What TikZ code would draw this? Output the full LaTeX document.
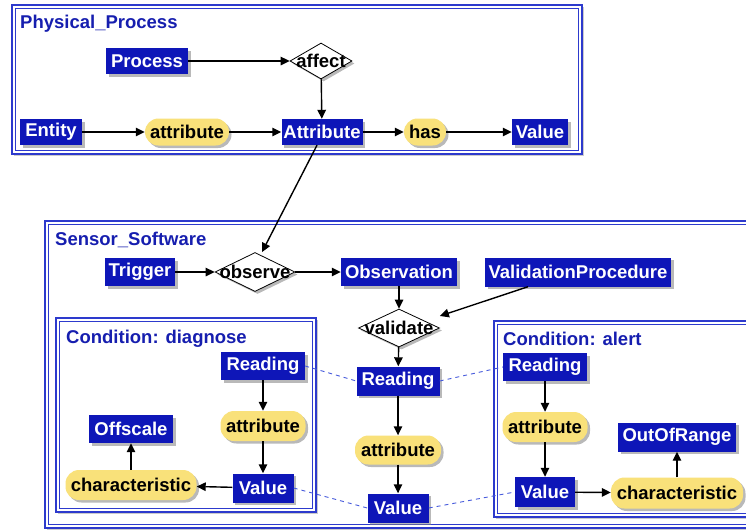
\documentclass[tikz,border=0pt]{standalone}
\usepackage{fontspec}
\setmainfont{Liberation Sans}
\usetikzlibrary{shapes.geometric,shadows,arrows.meta}
\definecolor{nblue}{RGB}{14,22,184}
\definecolor{cblue}{RGB}{45,58,205}
\definecolor{tblue}{RGB}{22,30,175}
\definecolor{ylw}{RGB}{249,225,122}
\definecolor{dblue}{RGB}{70,90,220}
\begin{document}
\begin{tikzpicture}[x=1pt,y=-1pt,
  font=\fontsize{18.5}{21}\selectfont\bfseries,
  shd/.style={drop shadow={shadow xshift=2.5pt,shadow yshift=-2.5pt,fill=black!50,opacity=0.55}},
  bx/.style={fill=nblue, text=white, inner sep=0pt, minimum height=27pt, shd},
  ov/.style={fill=ylw, text=black, inner sep=0pt, minimum height=28pt, rounded corners=13.5pt, shd},
  dia/.style={diamond, draw=black, fill=white, inner sep=0pt, line width=0.8pt, shd},
  cont/.style={draw=cblue, line width=2pt, fill=white,
    drop shadow={shadow xshift=2pt,shadow yshift=-2pt,fill=black!40,opacity=0.5}},
  contin/.style={draw=cblue, line width=1pt},
  ttl/.style={anchor=base west, text=tblue, inner sep=0pt},
  arr/.style={-{Triangle[length=9pt,width=8.5pt]}, line width=1.4pt},
  dsh/.style={draw=dblue, dash pattern=on 4pt off 4pt, line width=0.9pt}]
\useasboundingbox (0,0) rectangle (746,531);
% containers
\draw[cont] (12,5) rectangle (582,154);
\draw[contin] (15.5,8.5) rectangle (578.5,150.5);
\draw[cont] (45,221) rectangle (775,528);
\draw[contin] (48.5,224.5) rectangle (771.5,524.5);
\draw[cont] (56,318) rectangle (316,512);
\draw[contin] (59.5,321.5) rectangle (312.5,508.5);
\draw[cont] (494,321) rectangle (775,517);
\draw[contin] (497.5,324.5) rectangle (771.5,513.5);
\node[ttl] (t1) at (20,28) {Physical\_Process};
\node[ttl] (t2) at (55,245) {Sensor\_Software};
\node[ttl] (t3) at (66,343) {Condition: diagnose};
\node[ttl] (t4) at (503,345) {Condition: alert};
% Physical process
\node[bx, minimum width=82pt, minimum height=26pt] (Process) at (147,61) {Process};
\node[dia, minimum width=62pt, minimum height=36pt, label={center:affect}] (affect) at (321,61) {};
\node[bx, minimum width=62pt, minimum height=26pt] (Entity) at (51,132) {Entity};
\node[ov, minimum width=84pt, minimum height=27pt] (a1) at (187,132) {attribute};
\node[bx, minimum width=81pt, minimum height=26pt] (Attribute) at (322,132) {Attribute};
\node[ov, minimum width=42pt, minimum height=27pt] (has) at (425,132) {has};
\node[bx, minimum width=56pt, minimum height=26pt] (Value) at (540,132) {Value};
% Sensor software
\node[bx, minimum width=70pt, minimum height=28pt] (Trigger) at (140,272) {Trigger};
\node[dia, minimum width=80pt, minimum height=39pt, label={center:observe}] (observe) at (255,272) {};
\node[bx, minimum width=116pt, minimum height=28pt] (Observation) at (399,272) {Observation};
\node[bx, minimum width=186pt, minimum height=29pt] (VP) at (578,272) {ValidationProcedure};
\node[dia, minimum width=81pt, minimum height=38pt, label={center:validate}] (validate) at (399,328) {};
\node[bx, minimum width=83pt, minimum height=29pt] (Rm) at (398,381) {Reading};
\node[ov, minimum width=86pt, minimum height=29pt] (am) at (398,450) {attribute};
\node[bx, minimum width=61pt, minimum height=29pt] (Vm) at (398,508) {Value};
% diagnose
\node[bx, minimum width=84pt, minimum height=28pt] (Rd) at (263,366) {Reading};
\node[ov, minimum width=85pt, minimum height=30pt] (ad) at (263,426) {attribute};
\node[bx, minimum width=61pt, minimum height=29pt] (Vd) at (263,488) {Value};
\node[ov, minimum width=131pt, minimum height=30pt] (cd) at (131,485) {characteristic};
\node[bx, minimum width=84pt, minimum height=28pt] (Off) at (131,429) {Offscale};
% alert
\node[bx, minimum width=84pt, minimum height=28pt] (Ra) at (545,367) {Reading};
\node[ov, minimum width=85pt, minimum height=30pt] (aa) at (545,427) {attribute};
\node[bx, minimum width=60pt, minimum height=30pt] (Va) at (545,492) {Value};
\node[ov, minimum width=132pt, minimum height=31pt] (ca) at (677,493) {characteristic};
\node[bx, minimum width=118pt, minimum height=29pt] (OOR) at (677,437) {OutOfRange};
% arrows
\draw[arr] (Process) -- (affect);
\draw[arr] (affect) -- (Attribute);
\draw[arr] (Entity) -- (a1);
\draw[arr] (a1) -- (Attribute);
\draw[arr] (Attribute) -- (has);
\draw[arr] (has) -- (Value);
\draw[arr] ([xshift=-5pt]Attribute.south) -- ([xshift=7pt]observe.north);
\draw[arr] (Trigger) -- (observe);
\draw[arr] (observe) -- (Observation);
\draw[arr] (Observation) -- (validate);
\draw[arr] ([xshift=-50pt]VP.south) -- ([yshift=12pt]validate.east);
\draw[arr] (validate) -- (Rm);
\draw[arr] (Rm) -- (am);
\draw[arr] (am) -- (Vm);
\draw[arr] (Rd) -- (ad);
\draw[arr] (ad) -- (Vd);
\draw[arr] (Vd) -- (cd);
\draw[arr] (cd) -- (Off);
\draw[arr] (Ra) -- (aa);
\draw[arr] (aa) -- (Va);
\draw[arr] (Va) -- (ca);
\draw[arr] (ca) -- (OOR);
% dashed correspondences
\draw[dsh] (Rd.east) -- (Rm.west);
\draw[dsh] (Rm.east) -- (Ra.west);
\draw[dsh] (Vd.east) -- (Vm.west);
\draw[dsh] (Vm.east) -- (Va.west);
\end{tikzpicture}
\end{document}
